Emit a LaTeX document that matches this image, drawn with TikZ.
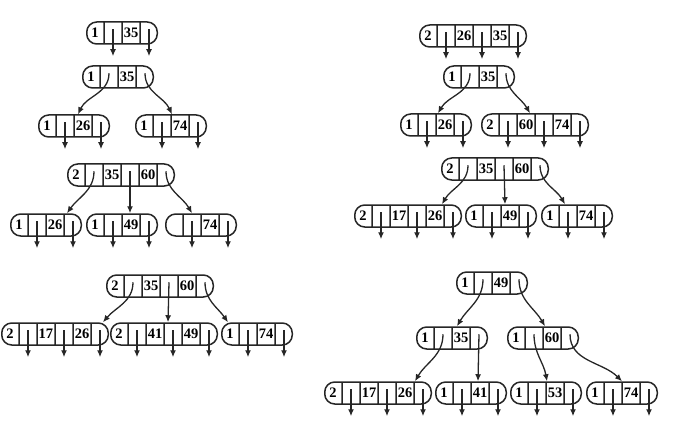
\documentclass[tikz,border=0pt]{standalone}
\usepackage{fontspec}
\setmainfont{Liberation Serif}
\usepackage{tikz}
\usetikzlibrary{shapes.multipart, arrows.meta}
\tikzstyle{bnode}=[rectangle split,
                   rectangle split horizontal,
                   draw=black!85,
                   line width=1.5pt,
                   rounded corners=10pt,
                   inner sep=0pt,
                   text width=16.5pt,
                   align=center,
                   minimum height=22pt,
                   rectangle split empty part width=16.5pt,
                   font=\bfseries\fontsize{14.5}{15}\selectfont]
\tikzstyle{ptr}=[-{Latex[length=7pt,width=6pt]},
                 line width=1.3pt,
                 color=black!85]

\begin{document}
\begin{tikzpicture}[x=1pt, y=1pt]
\useasboundingbox (0,0) rectangle (680,-425);

% left column
\node[bnode, rectangle split parts=4] (A1) at (122,-33) {1 \nodepart{two} \nodepart{three} 35 \nodepart{four}};
\node[bnode, rectangle split parts=4] (A2) at (118,-77) {1 \nodepart{two} \nodepart{three} 35 \nodepart{four}};
\node[bnode, rectangle split parts=4] (A3) at (74,-126) {1 \nodepart{two} \nodepart{three} 26 \nodepart{four}};
\node[bnode, rectangle split parts=4] (A4) at (171,-126) {1 \nodepart{two} \nodepart{three} 74 \nodepart{four}};

\node[bnode, rectangle split parts=6] (B1) at (121,-175) {2 \nodepart{two} \nodepart{three} 35 \nodepart{four} \nodepart{five} 60 \nodepart{six}};
\node[bnode, rectangle split parts=4] (B2) at (46,-225) {1 \nodepart{two} \nodepart{three} 26 \nodepart{four}};
\node[bnode, rectangle split parts=4] (B3) at (122,-225) {1 \nodepart{two} \nodepart{three} 49 \nodepart{four}};
\node[bnode, rectangle split parts=4] (B4) at (201,-225) {\nodepart{two} \nodepart{three} 74 \nodepart{four}};

\node[bnode, rectangle split parts=6] (C1) at (160,-286) {2 \nodepart{two} \nodepart{three} 35 \nodepart{four} \nodepart{five} 60 \nodepart{six}};
\node[bnode, rectangle split parts=6] (C2) at (55,-334) {2 \nodepart{two} \nodepart{three} 17 \nodepart{four} \nodepart{five} 26 \nodepart{six}};
\node[bnode, rectangle split parts=6] (C3) at (164,-334) {2 \nodepart{two} \nodepart{three} 41 \nodepart{four} \nodepart{five} 49 \nodepart{six}};
\node[bnode, rectangle split parts=4] (C4) at (257,-334) {1 \nodepart{two} \nodepart{three} 74 \nodepart{four}};

% right column
\node[bnode, rectangle split parts=6] (D1) at (473,-36) {2 \nodepart{two} \nodepart{three} 26 \nodepart{four} \nodepart{five} 35 \nodepart{six}};
\node[bnode, rectangle split parts=4] (D2) at (479,-77) {1 \nodepart{two} \nodepart{three} 35 \nodepart{four}};
\node[bnode, rectangle split parts=4] (D3) at (436,-125) {1 \nodepart{two} \nodepart{three} 26 \nodepart{four}};
\node[bnode, rectangle split parts=6] (D4) at (535,-125) {2 \nodepart{two} \nodepart{three} 60 \nodepart{four} \nodepart{five} 74 \nodepart{six}};

\node[bnode, rectangle split parts=6] (E1) at (495,-169) {2 \nodepart{two} \nodepart{three} 35 \nodepart{four} \nodepart{five} 60 \nodepart{six}};
\node[bnode, rectangle split parts=6] (E2) at (408,-216) {2 \nodepart{two} \nodepart{three} 17 \nodepart{four} \nodepart{five} 26 \nodepart{six}};
\node[bnode, rectangle split parts=4] (E3) at (501,-216) {1 \nodepart{two} \nodepart{three} 49 \nodepart{four}};
\node[bnode, rectangle split parts=4] (E4) at (577,-216) {1 \nodepart{two} \nodepart{three} 74 \nodepart{four}};

\node[bnode, rectangle split parts=4] (F1) at (492,-283) {1 \nodepart{two} \nodepart{three} 49 \nodepart{four}};
\node[bnode, rectangle split parts=4] (F2) at (452,-338) {1 \nodepart{two} \nodepart{three} 35 \nodepart{four}};
\node[bnode, rectangle split parts=4] (F3) at (543,-338) {1 \nodepart{two} \nodepart{three} 60 \nodepart{four}};
\node[bnode, rectangle split parts=6] (F4) at (378,-393) {2 \nodepart{two} \nodepart{three} 17 \nodepart{four} \nodepart{five} 26 \nodepart{six}};
\node[bnode, rectangle split parts=4] (F5) at (471,-393) {1 \nodepart{two} \nodepart{three} 41 \nodepart{four}};
\node[bnode, rectangle split parts=4] (F6) at (546,-393) {1 \nodepart{two} \nodepart{three} 53 \nodepart{four}};
\node[bnode, rectangle split parts=4] (F7) at (622,-393) {1 \nodepart{two} \nodepart{three} 74 \nodepart{four}};

% pointers to children
\path[ptr] ([yshift=-8pt]A2.two north) edge[out=-90, in=65] ([xshift=4pt]A3.north);
\path[ptr] ([yshift=-8pt]A2.four north) edge[out=-90, in=115] ([xshift=1pt]A4.north);

\path[ptr] ([yshift=-8pt]B1.two north) edge[out=-90, in=55] ([xshift=21pt]B2.north);
\path[ptr] ([yshift=-8pt]B1.four north) edge ([xshift=8pt]B3.north);
\path[ptr] ([yshift=-8pt]B1.six north) edge[out=-90, in=120] ([xshift=-9pt]B4.north);

\path[ptr] ([yshift=-8pt]C1.two north) edge[out=-90, in=50] ([xshift=48pt]C2.north);
\path[ptr] ([yshift=-8pt]C1.four north) edge ([xshift=4pt]C3.north);
\path[ptr] ([yshift=-8pt]C1.six north) edge[out=-90, in=125] ([xshift=-29pt]C4.north);

\path[ptr] ([yshift=-8pt]D2.two north) edge[out=-90, in=60] ([xshift=2pt]D3.north);
\path[ptr] ([yshift=-8pt]D2.four north) edge[out=-90, in=120] ([xshift=-5pt]D4.north);

\path[ptr] ([yshift=-8pt]E1.two north) edge[out=-90, in=60] ([xshift=34pt]E2.north);
\path[ptr] ([yshift=-8pt]E1.four north) edge ([xshift=4pt]E3.north);
\path[ptr] ([yshift=-8pt]E1.six north) edge[out=-90, in=120] ([xshift=-12pt]E4.north);

\path[ptr] ([yshift=-8pt]F1.two north) edge[out=-90, in=60] ([xshift=5pt]F2.north);
\path[ptr] ([yshift=-8pt]F1.four north) edge[out=-90, in=120] ([xshift=2pt]F3.north);
\path[ptr] ([yshift=-8pt]F2.two north) edge[out=-90, in=60] ([xshift=37pt]F4.north);
\path[ptr] ([yshift=-8pt]F2.four north) edge ([xshift=7pt]F5.north);
\path[ptr] ([yshift=-8pt]F3.two north) edge[out=-90, in=100] ([xshift=1pt]F6.north);
\path[ptr] ([yshift=-8pt]F3.four north) edge[out=-90, in=135] (F7.north);

% pointers to nothing below
\foreach \n/\p in {A1/two,A1/four,A3/two,A3/four,A4/two,A4/four,
                   B2/two,B2/four,B3/two,B3/four,B4/two,B4/four,
                   C2/two,C2/four,C2/six,C3/two,C3/four,C3/six,C4/two,C4/four,
                   D1/two,D1/four,D1/six,D3/two,D3/four,D4/two,D4/four,D4/six,
                   E2/two,E2/four,E2/six,E3/two,E3/four,E4/two,E4/four,
                   F4/two,F4/four,F4/six,F5/two,F5/four,F6/two,F6/four,F7/two,F7/four}{
  \coordinate (\n-\p) at ([yshift=-35pt]\n.\p\space north);
  \draw[ptr] ([yshift=-8pt]\n.\p\space north) -- (\n-\p);
}

\end{tikzpicture}
\end{document}
